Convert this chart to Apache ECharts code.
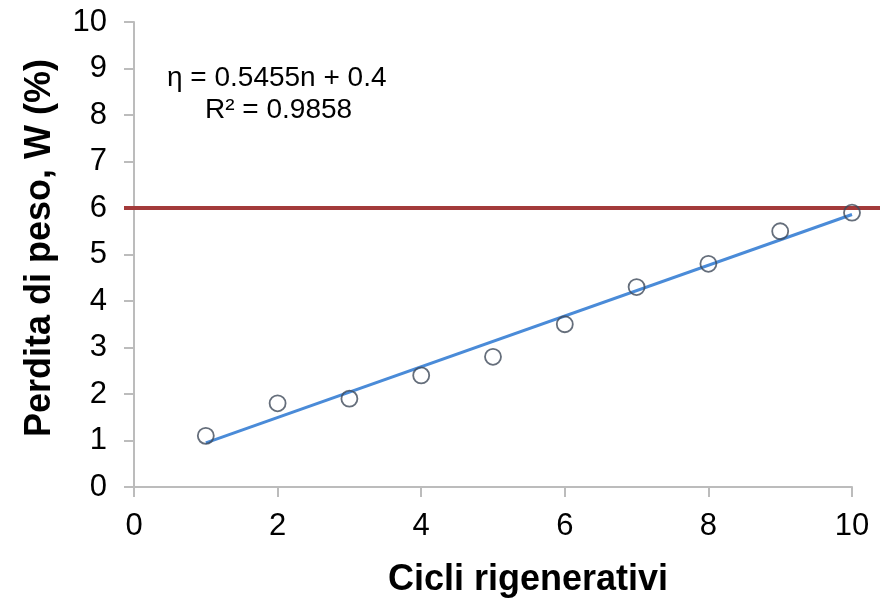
<!DOCTYPE html>
<html><head><meta charset="utf-8">
<script src="https://cdn.jsdelivr.net/npm/echarts@6/dist/echarts.min.js"></script>
<style>html,body{margin:0;padding:0;background:#fff}#c{width:885px;height:598px}</style>
</head><body><div id="c"></div>
<script>
const cycles = [1, 2, 3, 4, 5, 6, 7, 8, 9, 10];
const weightLoss = [1.1, 1.8, 1.9, 2.4, 2.8, 3.5, 4.3, 4.8, 5.5, 5.9];
const trendX = [1, 10];
const trendY = [0.95, 5.86];
const limitValue = 6;
const xTicks = [0, 2, 4, 6, 8, 10];
const yTicks = [0, 1, 2, 3, 4, 5, 6, 7, 8, 9, 10];
const xTitle = 'Cicli rigenerativi';
const yTitle = 'Perdita di peso, W (%)';
const eqText = 'η = 0.5455n + 0.4';
const r2Text = 'R² = 0.9858';

const font = 'Liberation Sans, Arial, sans-serif';
const chart = echarts.init(document.getElementById('c'));
const axisCol = '#bcbcbc';
chart.setOption({
  animation: false,
  backgroundColor: '#fff',
  grid: [
    {left: 134, right: 33, top: 22, bottom: 111},
    {left: 124, right: 5, top: 22, bottom: 111}
  ],
  xAxis: [
    {type: 'value', gridIndex: 0, min: xTicks[0], max: xTicks[xTicks.length-1], interval: 2,
     axisLine: {show: true, lineStyle: {color: axisCol, width: 2}},
     axisTick: {show: true, length: 10, lineStyle: {color: axisCol, width: 2}},
     splitLine: {show: false},
     axisLabel: {margin: 24, color: '#000', fontSize: 31, fontFamily: font}},
    {type: 'value', gridIndex: 1, min: 0, max: 1, show: false}
  ],
  yAxis: [
    {type: 'value', gridIndex: 0, min: yTicks[0], max: yTicks[yTicks.length-1], interval: 1,
     axisLine: {show: true, lineStyle: {color: axisCol, width: 2}},
     axisTick: {show: true, length: 10, lineStyle: {color: axisCol, width: 2}},
     splitLine: {show: false},
     axisLabel: {margin: 27, color: '#000', fontSize: 31, fontFamily: font}},
    {type: 'value', gridIndex: 1, min: 0, max: 10, show: false}
  ],
  series: [
    {type: 'line', xAxisIndex: 1, yAxisIndex: 1, symbol: 'none',
     data: [[0, limitValue], [1, limitValue]],
     lineStyle: {color: '#a33a3a', width: 4}, z: 1},
    {type: 'line', xAxisIndex: 0, yAxisIndex: 0, symbol: 'none',
     data: trendX.map((x, i) => [x, trendY[i]]),
     lineStyle: {color: '#4a8bd8', width: 3}, z: 2},
    {type: 'scatter', xAxisIndex: 0, yAxisIndex: 0, symbol: 'circle', symbolSize: 16,
     data: cycles.map((x, i) => [x, weightLoss[i]]),
     itemStyle: {color: 'rgba(255,255,255,0)', borderColor: '#3e4a5a', borderWidth: 1.8}, z: 3}
  ],
  graphic: [
    {type: 'text', x: 40, y: 248, rotation: Math.PI / 2,
     style: {text: yTitle, fill: '#000', font: 'bold 36px ' + font, align: 'center', verticalAlign: 'middle'}},
    {type: 'text', x: 528, y: 580,
     style: {text: xTitle, fill: '#000', font: 'bold 36px ' + font, align: 'center', verticalAlign: 'middle'}},
    {type: 'text', x: 167, y: 78,
     style: {text: eqText, fill: '#000', font: '28px ' + font, align: 'left', verticalAlign: 'middle'}},
    {type: 'text', x: 205, y: 110,
     style: {text: r2Text, fill: '#000', font: '28px ' + font, align: 'left', verticalAlign: 'middle'}}
  ]
});
</script></body></html>
